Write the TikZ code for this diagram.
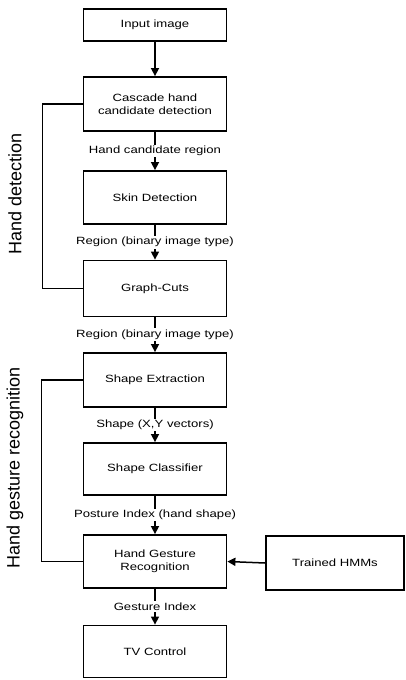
\documentclass[tikz,border=0pt]{standalone}
\usepackage{fontspec}
\setmainfont[FakeStretch=1.25]{Liberation Sans}
\newfontfamily\sidefont{Liberation Sans}
\usetikzlibrary{arrows.meta}
\begin{document}
\begin{tikzpicture}[x=1pt,y=-1pt,
  box/.style={draw, line width=1.8pt, minimum width=143pt, align=center,
    font=\fontsize{10.5}{13}\selectfont, inner sep=0pt},
  flow/.style={line width=1.5pt, -{Triangle[width=8pt,length=8pt]}},
  lbl/.style={fill=white, inner sep=1.5pt, font=\fontsize{10.5}{12}\selectfont},
  bracket/.style={line width=1.5pt},
  side/.style={font=\sidefont\fontsize{18}{20}\selectfont, rotate=90}
]
\useasboundingbox (0,0) rectangle (406,680);
\node[box, minimum height=32pt] (in) at (155,25) {Input image};
\node[box, minimum height=54pt] (cas) at (155,104) {Cascade hand\\candidate detection};
\node[box, minimum height=53pt] (skin) at (155,197.5) {Skin Detection};
\node[box, minimum height=56pt] (gc) at (155,288.5) {Graph-Cuts};
\node[box, minimum height=54pt] (se) at (155,380) {Shape Extraction};
\node[box, minimum height=52pt] (sc) at (155,469) {Shape Classifier};
\node[box, minimum height=53pt] (hgr) at (155,561.5) {Hand Gesture\\Recognition};
\node[box, minimum height=52pt] (tv) at (155,651.5) {TV Control};
\node[box, minimum height=54pt, minimum width=138pt] (hmm) at (335,563) {Trained HMMs};

\draw[flow] (in.south) -- (cas.north);
\draw[flow] (cas.south) -- node[lbl] (l1) {Hand candidate region} (skin.north);
\draw[flow] (skin.south) -- node[lbl] (l2) {Region (binary image type)} (gc.north);
\draw[flow] (gc.south) -- node[lbl] (l3) {Region (binary image type)} (se.north);
\draw[flow] (se.south) -- node[lbl] (l4) {Shape (X,Y vectors)} (sc.north);
\draw[flow] (sc.south) -- node[lbl] (l5) {Posture Index (hand shape)} (hgr.north);
\draw[flow] (hgr.south) -- node[lbl] (l6) {Gesture Index} (tv.north);
\draw[flow] (hmm.west) -- (hgr.east);

\draw[bracket] (cas.west) -- ++(-40,0) |- (gc.west);
\draw[bracket] (se.west) -- ++(-41,0) |- (hgr.west);

\node[side] (hd) at (15,194) {Hand detection};
\node[side] (hg) at (15,468) {Hand gesture recognition};
\end{tikzpicture}
\end{document}
